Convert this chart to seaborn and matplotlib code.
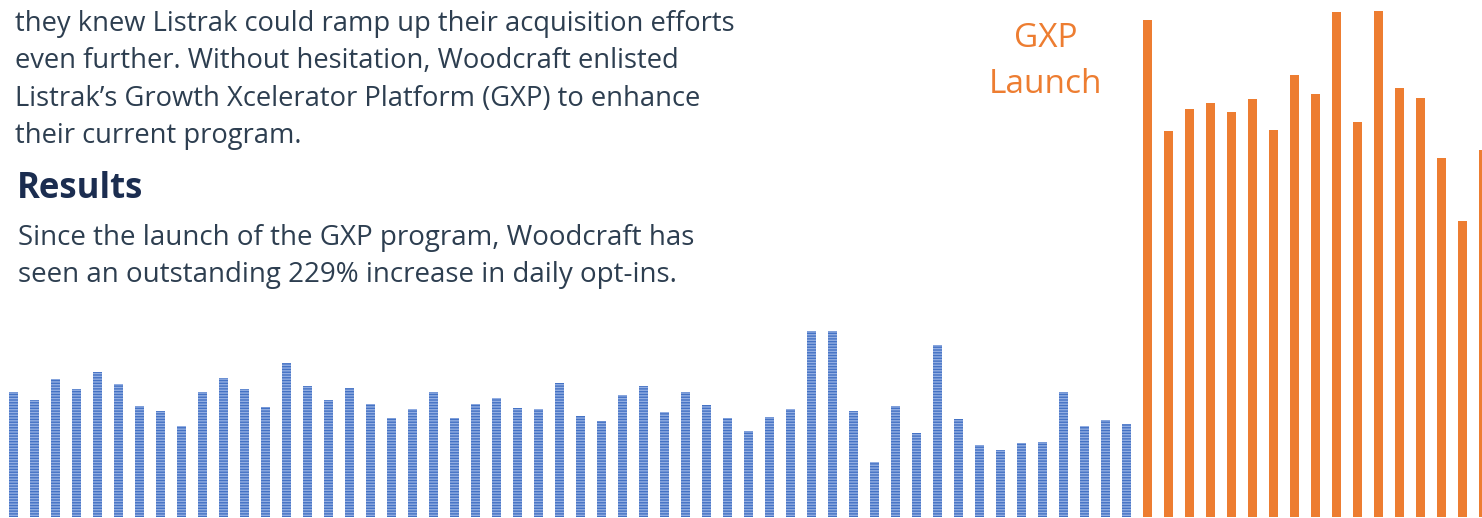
import matplotlib
matplotlib.use("Agg")
import matplotlib.pyplot as plt
import seaborn as sns
import pandas as pd
import numpy as np

# Daily opt-ins before the GXP launch (blue) and after (orange)
pre_launch = [125, 117, 138, 128, 145, 133, 111, 106, 91, 125, 139, 128, 110, 154,
              131, 117, 129, 113, 99, 108, 125, 99, 113, 119, 109, 108, 134, 101,
              96, 122, 131, 105, 125, 112, 99, 86, 100, 108, 186, 186, 106, 55,
              111, 84, 172, 98, 72, 67, 74, 75, 125, 91, 97, 93]
post_launch = [497, 386, 408, 414, 405, 418, 387, 442, 423, 505, 395, 506, 429,
               419, 359, 296, 367]
phase_labels = ["Before GXP", "After GXP"]

body_lines = [
    "they knew Listrak could ramp up their acquisition efforts",
    "even further. Without hesitation, Woodcraft enlisted",
    "Listrak\u2019s Growth Xcelerator Platform (GXP) to enhance",
    "their current program.",
]
heading = "Results"
result_lines = [
    "Since the launch of the GXP program, Woodcraft has",
    "seen an outstanding 229% increase in daily opt-ins.",
]
launch_lines = ["GXP", "Launch"]

values = pre_launch + post_launch
phase = [phase_labels[0]] * len(pre_launch) + [phase_labels[1]] * len(post_launch)
df = pd.DataFrame({"day": np.arange(len(values)), "optins": values, "phase": phase})

sns.set_theme(style="white")
plt.rcParams["font.family"] = ["Open Sans", "DejaVu Sans"]

W, H = 1482, 518
fig = plt.figure(figsize=(W / 100, H / 100), dpi=100)
ax = fig.add_axes([0, 0, 1, 1])

blue = "#4472C4"
orange = "#ED7D31"
sns.barplot(data=df, x="day", y="optins", hue="phase", dodge=False,
            palette={phase_labels[0]: blue, phase_labels[1]: orange},
            width=0.44, legend=False, ax=ax, linewidth=0, saturation=1)

plt.rcParams["hatch.linewidth"] = 1.0
for p in ax.patches:
    fc = p.get_facecolor()
    if abs(fc[0] - 0x44 / 255) < 0.02 and abs(fc[2] - 0xC4 / 255) < 0.02:
        p.set_hatch("------")
        p.set_edgecolor("#93aee2")
        p.set_linewidth(0)

ax.set_xlim(-0.633, 69.94)
ax.set_ylim(-1, 517)
ax.axis("off")

text_color = "#2d3e50"
y0 = 31
for i, line in enumerate(body_lines):
    fig.text(15 / W, 1 - (y0 + 37.5 * i) / H, line, fontsize=19.7, color=text_color,
             ha="left", va="baseline")
fig.text(17 / W, 1 - 198 / H, heading, fontsize=25, fontweight="bold",
         color="#1b2d50", ha="left", va="baseline")
for i, line in enumerate(result_lines):
    fig.text(18 / W, 1 - (245 + 37 * i) / H, line, fontsize=20, color=text_color,
             ha="left", va="baseline")

for i, line in enumerate(launch_lines):
    fig.text(1046 / W, 1 - (47 + 46 * i) / H, line, fontsize=24, color=orange,
             ha="center", va="baseline")

fig.savefig("out.png", dpi=100)
